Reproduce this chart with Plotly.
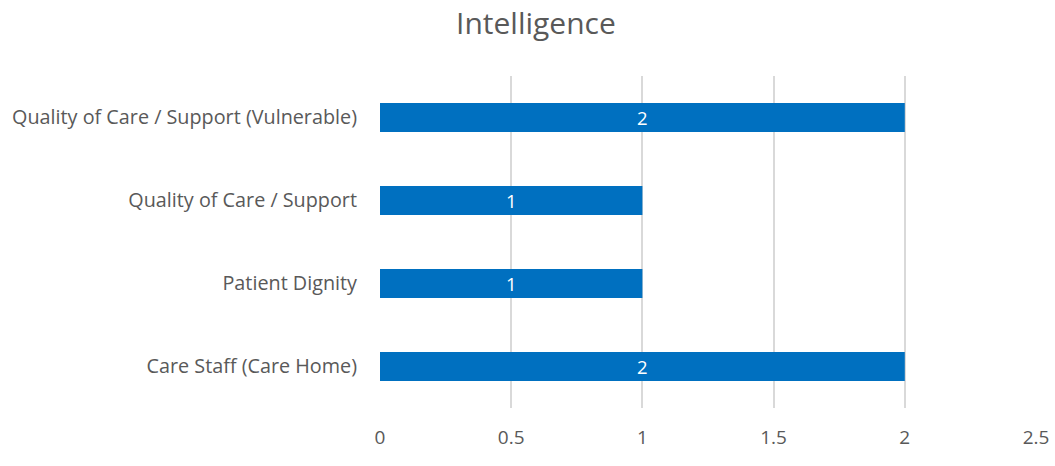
import plotly.graph_objects as go

categories = [
    "Care Staff (Care Home)",
    "Patient Dignity",
    "Quality of Care / Support",
    "Quality of Care / Support (Vulnerable)",
]
values = [2, 1, 1, 2]
x_ticks = [0, 0.5, 1, 1.5, 2, 2.5]
x_tick_labels = ["0", "0.5", "1", "1.5", "2", "2.5"]

FONT = "Open Sans"
TEXT = "#595959"

fig = go.Figure(
    go.Bar(
        y=categories,
        x=values,
        orientation="h",
        marker=dict(color="#0070C0", line=dict(width=0)),
        width=0.35,
        text=[str(v) for v in values],
        textposition="inside",
        insidetextanchor="middle",
        textangle=0,
        constraintext="none",
        textfont=dict(family=FONT, size=18.5, color="white"),
        hoverinfo="skip",
    )
)

fig.update_layout(
    width=1055,
    height=466,
    margin=dict(l=380, r=19, t=76, b=58),
    paper_bgcolor="white",
    plot_bgcolor="white",
    title=dict(
        text="Intelligence",
        x=0.508,
        xref="container",
        xanchor="center",
        y=0.95,
        yanchor="middle",
        font=dict(family=FONT, size=30, color=TEXT),
    ),
    showlegend=False,
    xaxis=dict(
        range=[0, 2.5],
        tickvals=x_ticks,
        ticktext=x_tick_labels,
        showgrid=True,
        gridcolor="#D9D9D9",
        gridwidth=1.5,
        zeroline=False,
        showline=False,
        ticks="",
        automargin=False,
        ticklabelstandoff=16,
        tickfont=dict(family=FONT, size=19, color=TEXT),
    ),
    yaxis=dict(
        range=[-0.5, 3.5],
        showgrid=False,
        zeroline=False,
        showline=False,
        ticks="",
        automargin=False,
        ticklabelstandoff=22,
        tickfont=dict(family=FONT, size=19.8, color=TEXT),
    ),
)

fig.write_html("out.html")
